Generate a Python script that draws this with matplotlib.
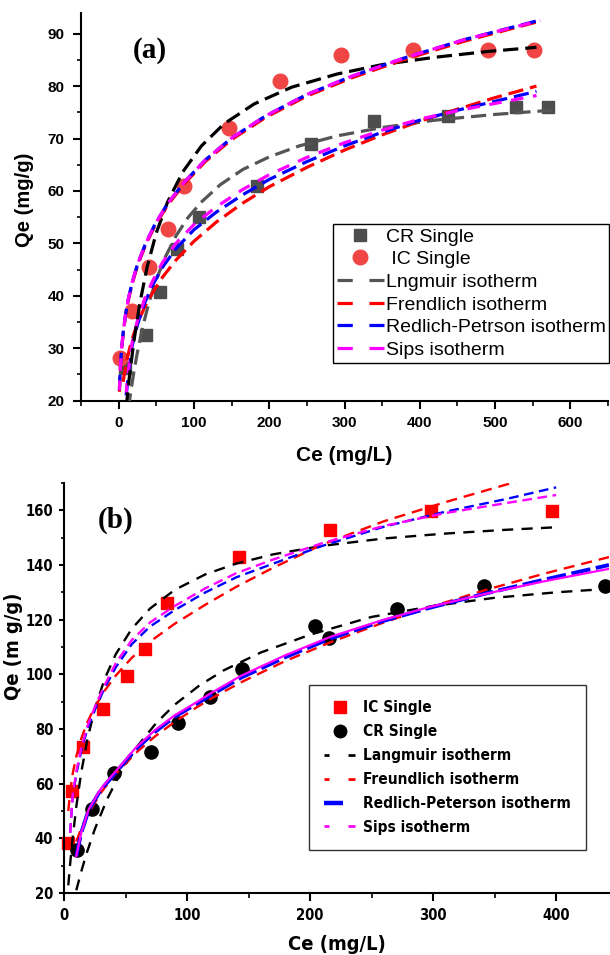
import matplotlib
matplotlib.use('Agg')
import matplotlib.pyplot as plt
from matplotlib.lines import Line2D
from matplotlib.ticker import MultipleLocator
from matplotlib import font_manager as fm

plt.rcParams['lines.scale_dashes'] = False

names = {f.name for f in fm.fontManager.ttflist}
SANS = 'Liberation Sans' if 'Liberation Sans' in names else 'DejaVu Sans'
SERIF = 'Liberation Serif' if 'Liberation Serif' in names else 'DejaVu Serif'
if 'Liberation Sans Narrow' in names:
    def narrow(size):
        return fm.FontProperties(family='Liberation Sans Narrow', weight='bold', size=size)
else:
    def narrow(size):
        return fm.FontProperties(family='DejaVu Sans', stretch='condensed', weight='bold', size=size * 0.85)

# ---------------- Panel (a) data ----------------
a_cr_ce = [8, 36, 55, 78, 107, 184, 256, 339, 437, 528, 570]
a_cr_qe = [26.2, 32.5, 40.8, 49.0, 55.0, 61.0, 69.0, 73.3, 74.3, 76.0, 76.1]
a_ic_ce = [2, 18, 40, 65, 87, 147, 214, 296, 391, 490, 552]
a_ic_qe = [28.2, 37.2, 45.5, 52.8, 60.9, 72.0, 81.0, 86.0, 86.9, 86.9, 86.9]

a_lang_cr_ce = [13, 16, 20, 25, 32, 40, 50, 62, 76, 92, 110, 135, 165, 200, 240, 290, 350, 420, 500, 575]
a_lang_cr_qe = [18.5, 21.6, 25.3, 29.3, 34.1, 38.6, 43.1, 47.4, 51.4, 54.9, 57.9, 61.2, 64.1, 66.5, 68.6, 70.5, 72.1, 73.5, 74.6, 75.4]
a_freu_cr_ce = [6, 8, 11, 15, 20, 27, 35, 45, 58, 76, 100, 130, 165, 200, 250, 300, 350, 400, 450, 500, 555]
a_freu_cr_qe = [23.6, 25.5, 27.8, 30.2, 32.7, 35.4, 38.0, 40.6, 43.5, 46.8, 50.4, 54.1, 57.7, 60.8, 64.5, 67.8, 70.7, 73.3, 75.6, 77.8, 80.0]
a_rpsips_cr_ce = [10, 13, 18, 25, 35, 45, 58, 76, 100, 130, 165, 200, 250, 300, 350, 400, 450, 500, 555]
a_rp_cr_qe = [21.0, 25.0, 30.5, 34.5, 38.8, 42.0, 45.4, 49.0, 52.6, 56.0, 59.3, 62.2, 65.6, 68.6, 71.2, 73.5, 75.4, 77.1, 79.0]
a_sips_cr_qe = [21.5, 25.8, 31.2, 35.3, 39.6, 42.8, 46.3, 50.0, 53.6, 57.0, 60.3, 63.1, 66.4, 69.2, 71.6, 73.7, 75.3, 76.7, 78.2]

a_lang_ic_ce = [10, 14, 20, 28, 38, 50, 65, 85, 110, 140, 180, 230, 290, 350, 420, 490, 555]
a_lang_ic_qe = [18.7, 24.2, 31.1, 38.5, 45.6, 52.0, 57.9, 63.6, 68.6, 72.8, 76.6, 79.8, 82.3, 84.1, 85.5, 86.6, 87.4]
a_fit_ic_ce = [1, 2, 3.5, 6, 9, 13, 18, 25, 35, 48, 65, 88, 115, 150, 195, 250, 310, 380, 460, 560]
a_freu_ic_qe = [21.7, 25.3, 28.9, 32.7, 36.0, 39.2, 42.3, 45.7, 49.4, 53.3, 57.3, 61.5, 65.6, 69.8, 74.0, 78.1, 81.6, 85.1, 88.6, 92.4]
a_rp_ic_qe = [22.0, 25.6, 29.2, 33.0, 36.3, 39.5, 42.6, 46.0, 49.7, 53.6, 57.6, 61.8, 65.9, 70.1, 74.3, 78.4, 81.9, 85.4, 88.9, 92.6]
a_sips_ic_qe = [22.0, 25.6, 29.2, 33.0, 36.3, 39.5, 42.6, 46.0, 49.7, 53.6, 57.6, 61.8, 65.9, 70.1, 74.3, 78.4, 81.9, 85.4, 88.9, 92.5]

a_labels = ['CR Single', ' IC Single', 'Lngmuir isotherm', 'Frendlich isotherm',
            'Redlich-Petrson isotherm', 'Sips isotherm']

# ---------------- Panel (b) data ----------------
b_ic_ce = [3.5, 6.8, 15.7, 32, 51, 66, 84, 142, 216, 298, 397]
b_ic_qe = [38.2, 57.4, 73.5, 87.2, 99.4, 109.4, 126.2, 143.0, 152.8, 159.9, 159.9]
b_cr_ce = [10.3, 23, 41, 70.5, 92.4, 119, 145, 204, 215, 271, 341, 440]
b_cr_qe = [35.7, 50.6, 63.8, 71.7, 82.3, 91.8, 102.0, 117.7, 113.2, 123.8, 132.4, 132.4]

b_fit_ic_ce = [3.5, 5, 7, 10, 14, 19, 25, 33, 42, 55, 70, 90, 115, 140, 170, 210, 260, 310, 360, 400]
b_lang_ic_qe = [22.8, 30.7, 40.0, 51.6, 64.1, 76.2, 87.3, 98.3, 107.3, 116.6, 124.1, 130.9, 136.6, 140.5, 143.9, 147.0, 149.7, 151.5, 152.9, 153.8]
b_freu_ic_qe = [50, 57, 63.5, 70, 76.5, 82.5, 88, 94, 99.5, 106, 112, 118.5, 125.5, 132, 139, 147.5, 156, 163, 169.5, 174]
b_rpsips_ic_ce = [5, 7, 10, 14, 19, 25, 33, 42, 55, 70, 90, 115, 140, 170, 210, 260, 310, 360, 400]
b_rp_ic_qe = [42, 55, 63.5, 72, 80, 87, 95, 102.5, 111, 117.5, 123.5, 130, 135.5, 140.5, 147, 154, 159.5, 164.2, 168.4]
b_sips_ic_qe = [42, 55.5, 64.5, 73, 81, 88, 96, 104, 112.5, 119, 125, 131.5, 137, 142, 148, 154.3, 159, 162.7, 165.6]

b_fit_cr_ce = [10, 14, 20, 30, 41, 58, 74, 90, 107, 119, 144, 180, 217, 260, 296, 343, 390, 443]
b_freu_cr_qe = [38.8, 43.6, 49.3, 56.7, 63.1, 71.1, 77.3, 82.6, 87.7, 91.0, 97.1, 104.9, 111.8, 119.0, 124.4, 130.9, 136.8, 142.9]
b_rp_cr_qe = [33.5, 42, 50.3, 57.8, 63.5, 72.5, 79, 84.5, 89, 92.3, 98.8, 106.3, 113.2, 119.6, 124.2, 129.6, 134.6, 140.0]
b_sips_cr_qe = [33.5, 42, 50.5, 58.2, 64, 73, 79.6, 85, 89.6, 93, 99.5, 107, 113.8, 120, 124.5, 129.5, 134, 138.6]
b_lang_cr_ce = [10, 14, 18, 25, 35, 47, 60, 75, 90, 110, 130, 160, 200, 250, 300, 350, 400, 443]
b_lang_cr_qe = [21.0, 27.8, 34.0, 43.3, 54.3, 64.9, 73.9, 82.2, 88.9, 95.9, 101.5, 108.0, 114.5, 121.0, 125.0, 128.0, 130.0, 131.3]

b_labels = ['IC Single', 'CR Single', 'Langmuir isotherm', 'Freundlich isotherm',
            'Redlich-Peterson isotherm', 'Sips isotherm']

W, H = 610, 955
fig = plt.figure(figsize=(W / 100, H / 100), dpi=100)

def px_axes(l, t, r, b):
    return fig.add_axes([l / W, 1 - b / H, (r - l) / W, (b - t) / H])

def style_axes(ax):
    for s in ['top', 'right']:
        ax.spines[s].set_visible(False)
    for s in ['left', 'bottom']:
        ax.spines[s].set_linewidth(1.5)

# ================= Panel (a) =================
ax1 = px_axes(81, 12.7, 608, 400.7)
style_axes(ax1)
GRAY_PT = '#4d4d4d'
IC_RED = '#f04545'
ax1.plot(a_cr_ce, a_cr_qe, ls='none', marker='s', ms=9, color=GRAY_PT, zorder=2, clip_on=False)
ax1.plot(a_ic_ce, a_ic_qe, ls='none', marker='o', ms=10.5, color=IC_RED, zorder=2, clip_on=False)

lw_a = 2.3
LS_A = (0, (11, 5))
LS_A_BLUE = (0, (11, 5))
LS_A_MAG = (2, (9, 7))
ax1.plot(a_lang_cr_ce, a_lang_cr_qe, color='#555555', lw=lw_a, ls=LS_A, zorder=3)
ax1.plot(a_freu_cr_ce, a_freu_cr_qe, color='#ff0000', lw=lw_a, ls=LS_A, zorder=3)
ax1.plot(a_rpsips_cr_ce, a_rp_cr_qe, color='#0000ff', lw=lw_a, ls=LS_A_BLUE, zorder=3)
ax1.plot(a_rpsips_cr_ce, a_sips_cr_qe, color='#ff00ff', lw=lw_a, ls=LS_A_MAG, zorder=3)

ax1.plot(a_lang_ic_ce, a_lang_ic_qe, color='black', lw=lw_a, ls=LS_A, zorder=3)
ax1.plot(a_fit_ic_ce, a_freu_ic_qe, color='#ff0000', lw=lw_a, ls=LS_A, zorder=3)
ax1.plot(a_fit_ic_ce, a_rp_ic_qe, color='#0000ff', lw=lw_a, ls=LS_A_BLUE, zorder=3)
ax1.plot(a_fit_ic_ce, a_sips_ic_qe, color='#ff00ff', lw=lw_a, ls=LS_A_MAG, zorder=3)

ax1.set_xlim(-50, 650)
ax1.set_ylim(20, 94)
ax1.xaxis.set_major_locator(MultipleLocator(100))
ax1.xaxis.set_minor_locator(MultipleLocator(50))
ax1.yaxis.set_major_locator(MultipleLocator(10))
ax1.yaxis.set_minor_locator(MultipleLocator(5))
ax1.set_xticks([0, 100, 200, 300, 400, 500, 600])
ax1.tick_params(axis='y', which='major', direction='out', length=6, width=1.5, pad=6)
ax1.tick_params(axis='y', which='minor', direction='out', length=3, width=1.2)
ax1.tick_params(axis='x', which='major', direction='out', length=6, width=1.5, pad=5)
ax1.tick_params(axis='x', which='minor', direction='out', length=3.5, width=1.2)
for lab in ax1.get_xticklabels() + ax1.get_yticklabels():
    lab.set_fontfamily(SANS)
    lab.set_fontweight('bold')
    lab.set_fontsize(11)

fig.text(25 / W, 1 - 200 / H, 'Qe (mg/g)', rotation=90, ha='center', va='center',
         family=SANS, weight='bold', fontsize=14.5)
fig.text(344 / W, 1 - 455 / H, 'Ce (mg/L)', ha='center', va='center',
         family=SANS, weight='bold', fontsize=15)
fig.text(150 / W, 1 - 50 / H, '(a)', ha='center', va='center',
         family=SERIF, weight='bold', fontsize=21)

ha = [
    Line2D([], [], ls='none', marker='s', ms=9, color=GRAY_PT),
    Line2D([], [], ls='none', marker='o', ms=10.5, color=IC_RED),
    Line2D([], [], color='#555555', lw=lw_a, ls=(0, (11, 12))),
    Line2D([], [], color='#ff0000', lw=lw_a, ls=(0, (11, 12))),
    Line2D([], [], color='#0000ff', lw=lw_a, ls=(0, (11, 12))),
    Line2D([], [], color='#ff00ff', lw=lw_a, ls=(0, (11, 12))),
]
leg1 = ax1.legend(ha, a_labels, loc='upper left', bbox_to_anchor=(333 / W, 1 - 224 / H),
                  bbox_transform=fig.transFigure, frameon=True, fancybox=False,
                  edgecolor='black', framealpha=1, borderpad=0.2, labelspacing=0.26,
                  handlelength=2.4, handletextpad=0.1, borderaxespad=0,
                  prop=fm.FontProperties(family=SANS, size=14))
leg1.get_frame().set_linewidth(1.0)

# ================= Panel (b) =================
ax2 = px_axes(64, 483, 609, 893)
style_axes(ax2)
ax2.plot(b_ic_ce, b_ic_qe, ls='none', marker='s', ms=9, color='#ff0000', zorder=2, clip_on=False)
ax2.plot(b_cr_ce, b_cr_qe, ls='none', marker='o', ms=9.5, color='black', zorder=2, clip_on=False)

lw_b = 1.7
ax2.plot(b_fit_ic_ce, b_lang_ic_qe, color='black', lw=lw_b, ls=(0, (8, 6)), zorder=3)
ax2.plot(b_fit_ic_ce, b_freu_ic_qe, color='#ff0000', lw=lw_b, ls=(0, (8, 5)), zorder=3)
ax2.plot(b_rpsips_ic_ce, b_rp_ic_qe, color='#0000ff', lw=lw_b, ls=(0, (7, 4)), zorder=3)
ax2.plot(b_rpsips_ic_ce, b_sips_ic_qe, color='#ff00ff', lw=lw_b, ls=(0, (7, 4)), zorder=3)

ax2.plot(b_lang_cr_ce, b_lang_cr_qe, color='black', lw=lw_b, ls=(0, (8, 6)), zorder=3)
ax2.plot(b_fit_cr_ce, b_freu_cr_qe, color='#ff0000', lw=lw_b, ls=(0, (8, 5)), zorder=3)
ax2.plot(b_fit_cr_ce, b_rp_cr_qe, color='#0000ff', lw=2.8, ls=(0, (14, 4)), zorder=3)
ax2.plot(b_fit_cr_ce, b_sips_cr_qe, color='#ff00ff', lw=1.6, zorder=4)

ax2.set_xlim(0, 443)
ax2.set_ylim(20, 170)
ax2.xaxis.set_major_locator(MultipleLocator(100))
ax2.xaxis.set_minor_locator(MultipleLocator(50))
ax2.yaxis.set_major_locator(MultipleLocator(20))
ax2.yaxis.set_minor_locator(MultipleLocator(10))
ax2.tick_params(axis='y', which='major', direction='out', length=3.8, width=1.5, pad=4)
ax2.tick_params(axis='y', which='minor', direction='out', length=2.3, width=1.2)
ax2.tick_params(axis='x', which='major', direction='out', length=6, width=1.5, pad=5)
ax2.tick_params(axis='x', which='minor', direction='out', length=3.6, width=1.2)
tfp = narrow(12.5)
for lab in ax2.get_xticklabels() + ax2.get_yticklabels():
    lab.set_fontproperties(tfp)

fig.text(14 / W, 1 - 646 / H, 'Qe (m g/g)', rotation=90, ha='center', va='center',
         fontproperties=narrow(17))
fig.text(337 / W, 1 - 944 / H, 'Ce (mg/L)', ha='center', va='center',
         fontproperties=narrow(17))
fig.text(116 / W, 1 - 520 / H, '(b)', ha='center', va='center',
         family=SERIF, weight='bold', fontsize=21)

hb = [
    Line2D([], [], ls='none', marker='s', ms=8.5, color='#ff0000'),
    Line2D([], [], ls='none', marker='o', ms=9, color='black'),
    Line2D([], [], color='black', lw=2, ls=(0, (3.6, 13.7, 8, 20))),
    Line2D([], [], color='#ff0000', lw=2, ls=(0, (3.6, 13.7, 8, 20))),
    Line2D([], [], color='#0000ff', lw=3.2, ls=(0, (13.7, 30))),
    Line2D([], [], color='#ff00ff', lw=2, ls=(0, (3.6, 13.7, 8, 20))),
]
leg2 = ax2.legend(hb, b_labels, loc='upper left', bbox_to_anchor=(309 / W, 1 - 685 / H),
                  bbox_transform=fig.transFigure, frameon=True, fancybox=False,
                  edgecolor='#333333', framealpha=1, borderpad=1.0, labelspacing=0.58,
                  handlelength=2.0, handletextpad=0.5, borderaxespad=0,
                  prop=narrow(13))
leg2.get_frame().set_linewidth(1.0)

fig.savefig('out.png', dpi=100)
